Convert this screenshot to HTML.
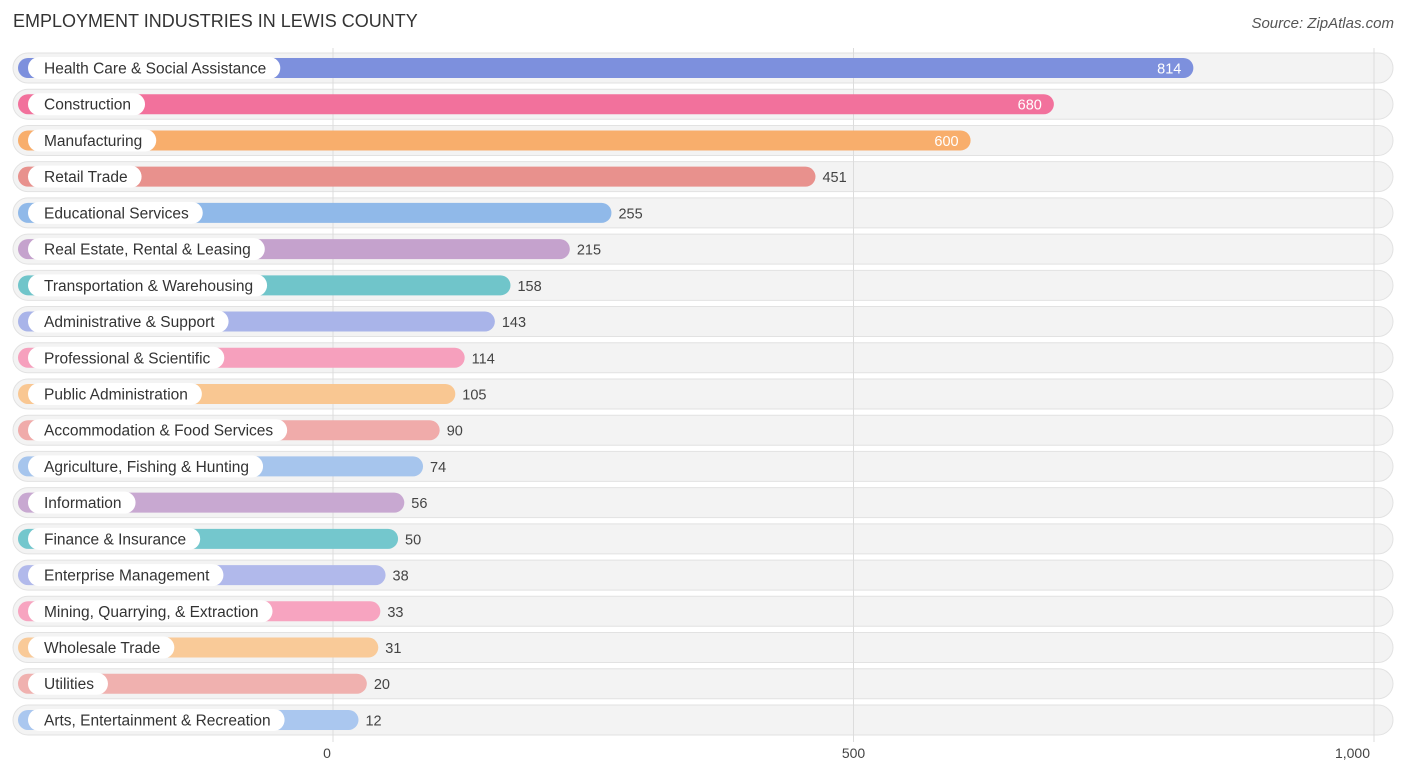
<!DOCTYPE html>
<html><head><meta charset="utf-8"><style>
body{margin:0;width:1406px;height:776px;background:#fff;font-family:"Liberation Sans",sans-serif;overflow:hidden;position:relative}
#title{position:absolute;left:13px;top:11px;font-size:18px;color:#333}
#source{position:absolute;right:12px;top:15px;font-size:15px;color:#555;font-style:italic}
</style></head><body>
<div id="title">EMPLOYMENT INDUSTRIES IN LEWIS COUNTY</div>
<div id="source">Source: ZipAtlas.com</div>
<svg id="chart" width="1406" height="776" style="position:absolute;left:0;top:0"></svg>
<script>
const categories=["Health Care & Social Assistance","Construction","Manufacturing","Retail Trade","Educational Services","Real Estate, Rental & Leasing","Transportation & Warehousing","Administrative & Support","Professional & Scientific","Public Administration","Accommodation & Food Services","Agriculture, Fishing & Hunting","Information","Finance & Insurance","Enterprise Management","Mining, Quarrying, & Extraction","Wholesale Trade","Utilities","Arts, Entertainment & Recreation"];
const values=[814,680,600,451,255,215,158,143,114,105,90,74,56,50,38,33,31,20,12];
const colors=["#7d90dd","#f2719c","#f8ae6c","#e8918d","#90b9e9","#c5a2cd","#70c5ca","#a9b4e9","#f6a0bd","#f9c792","#f0abaa","#a6c5ed","#c8a8d1","#74c7cd","#b1b9eb","#f7a4c0","#f9ca98","#f0b1af","#aac7ef"];
const ticks=[0,500,1000];
const tickLabels=["0","500","1,000"];
const NS="http://www.w3.org/2000/svg";
const svg=document.getElementById("chart");
const gx=v=>333+v*1.041;      // grid axis
const bx=v=>346+v*1.041;      // bar end
const ry=i=>68+i*36.22;
function mk(t,a,p){const e=document.createElementNS(NS,t);for(const k in a)e.setAttribute(k,a[k]);(p||svg).appendChild(e);return e;}
categories.forEach((c,i)=>{
  const y=ry(i);
  const bg=mk("rect",{x:13,y:y-15,width:1380,height:30,rx:15,fill:"#f3f3f3",stroke:"#e2e2e2","stroke-width":1});
  
  
});
ticks.forEach((t,i)=>{
  const l=mk("line",{x1:gx(t),x2:gx(t),y1:48,y2:742,stroke:"#dcdcdc","stroke-width":1});
  
  
  const tx=mk("text",{x:gx(t)-(i==2?4:(i==0?6:0)),y:758,"font-size":14,fill:"#444","text-anchor":i==2?"end":"middle"});
  tx.textContent=tickLabels[i];
  
  
});
categories.forEach((c,i)=>{
  const y=ry(i),v=values[i];
  const b=mk("rect",{x:18,y:y-10,width:bx(v)-18,height:20,rx:10,fill:colors[i]});
  
  
  const lab=mk("text",{x:44,y:y+5.5,"font-size":15.5,fill:"#333"});
  lab.textContent=c;
  const w=lab.getComputedTextLength();
  const pill=mk("rect",{x:28,y:y-11,width:w+30,height:22,rx:11,fill:"#fff"});
  svg.insertBefore(pill,lab);
  
  
  
  
  const inside=v>=600;
  const val=mk("text",{x:inside?bx(v)-12:bx(v)+7,y:y+5.5,"font-size":14.5,fill:inside?"#fff":"#444","text-anchor":inside?"end":"start"});
  val.textContent=v;
  
  
});
</script>
</body></html>
